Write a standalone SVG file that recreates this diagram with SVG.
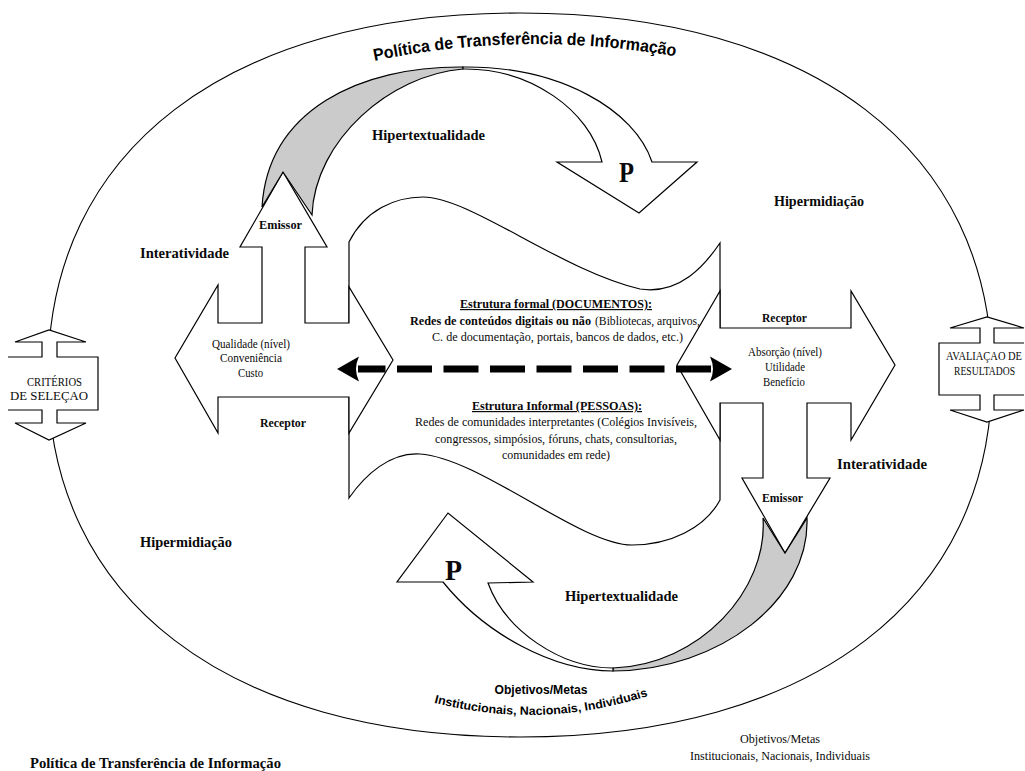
<svg xmlns="http://www.w3.org/2000/svg" width="1025" height="771" viewBox="0 0 1025 771">
<defs>
<style>
.s{fill:#fff;stroke:#000;stroke-width:1.2}
.o{fill:none;stroke:#000;stroke-width:1.1}
.g{fill:#cbcbcb;stroke:#000;stroke-width:1.2}
.tb{font-family:"Liberation Serif","Times New Roman",serif;font-weight:bold;fill:#0a0a0a}
.tr{font-family:"Liberation Serif","Times New Roman",serif;fill:#0a0a0a}
.sb{font-family:"Liberation Sans",Arial,sans-serif;font-weight:bold;fill:#000}
.dash{stroke:#000;stroke-width:7;fill:none;stroke-dasharray:35 11.5;stroke-dashoffset:7.5}
</style>
<marker id="ah" markerUnits="userSpaceOnUse" viewBox="0 0 30 30" markerWidth="30" markerHeight="30" refX="7" refY="15" orient="auto-start-reverse">
<path d="M28,15 L6,2.5 Q12,15 6,27.5 Z" fill="#000"/>
</marker>
<path id="topArc" d="M365,63 Q520,28 685,58"/>
<path id="botArc" d="M428,701 Q540,732 654,694"/>
</defs>
<rect width="1025" height="771" fill="#fff"/>

<g id="boundary">
<path class="o" d="M992,375 C992,599.4 812.6,737 520,737 C227.4,737 48,599.4 48,375 C48,150.6 227.4,13 520,13 C812.6,13 992,150.6 992,375 Z"/>
<text class="sb" font-size="17"><textPath href="#topArc" startOffset="50%" text-anchor="middle" textLength="303" lengthAdjust="spacingAndGlyphs">Política de Transferência de Informação</textPath></text>
<text class="sb" x="541" y="694" font-size="12" text-anchor="middle" textLength="93" lengthAdjust="spacingAndGlyphs">Objetivos/Metas</text>
<text class="sb" font-size="12"><textPath href="#botArc" startOffset="50%" text-anchor="middle" textLength="217" lengthAdjust="spacingAndGlyphs">Institucionais, Nacionais, Individuais</textPath></text>
</g>

<g id="criterios">
<path class="s" d="M8,357 L42,357 L42,342 L15,342 L49,330 L86,342 L57,342 L57,357 L98,357 L98,410 L57,410 L57,423 L86,423 L49,440 L15,423 L42,423 L42,410 L8,410"/>
<text class="tr" x="27" y="386" font-size="12" textLength="55" lengthAdjust="spacingAndGlyphs">CRITÉRIOS</text>
<text class="tr" x="10" y="400" font-size="12" textLength="78" lengthAdjust="spacingAndGlyphs">DE SELEÇAO</text>
</g>

<g id="avaliacao">
<path class="s" d="M1024,343 L994,343 L994,328 L1024,328 L987,317 L950,328 L980,328 L980,343 L939,343 L939,395 L980,395 L980,410 L950,410 L987,422 L1024,410 L994,410 L994,395 L1024,395"/>
<text class="tr" x="946" y="360" font-size="12" textLength="76" lengthAdjust="spacingAndGlyphs">AVALIAÇAO DE</text>
<text class="tr" x="954" y="375" font-size="12" textLength="61" lengthAdjust="spacingAndGlyphs">RESULTADOS</text>
</g>

<g id="central">
<path class="s" d="M349,242 C365,210 395,197 423,197 C470,197 560,270 640,289 C680,295 705,265 720,243 L720,500 C705,528 670,545 632,545 C580,545 480,458 420,454 C390,452 365,475 349,498 Z"/>
<text class="tb" x="460" y="308" font-size="12" text-decoration="underline" textLength="192" lengthAdjust="spacingAndGlyphs">Estrutura formal (DOCUMENTOS):</text>
<text class="tb" x="410" y="325" font-size="12" textLength="181" lengthAdjust="spacingAndGlyphs">Redes de conteúdos digitais ou não</text>
<text class="tr" x="595" y="325" font-size="12" textLength="105" lengthAdjust="spacingAndGlyphs">(Bibliotecas, arquivos,</text>
<text class="tr" x="432" y="341" font-size="12" textLength="251" lengthAdjust="spacingAndGlyphs">C. de documentação, portais, bancos de dados, etc.)</text>
<text class="tb" x="472" y="410" font-size="12" text-decoration="underline" textLength="170" lengthAdjust="spacingAndGlyphs">Estrutura Informal (PESSOAS):</text>
<text class="tr" x="415" y="426" font-size="12" textLength="282" lengthAdjust="spacingAndGlyphs">Redes de comunidades interpretantes (Colégios Invisíveis,</text>
<text class="tr" x="435" y="443" font-size="12" textLength="242" lengthAdjust="spacingAndGlyphs">congressos, simpósios, fóruns, chats, consultorias,</text>
<text class="tr" x="502" y="459" font-size="12" textLength="108" lengthAdjust="spacingAndGlyphs">comunidades em rede)</text>
</g>

<g id="left-block">
<polygon class="s" points="262,323 262,247 240,247 283,172 327,247 305,247 305,323 349,323 349,287 393,360 349,433 349,397 218,397 218,433 175,358 218,285 218,323"/>
<text class="tb" x="259" y="229" font-size="12" textLength="43" lengthAdjust="spacingAndGlyphs">Emissor</text>
<text class="tr" x="212" y="348" font-size="12" textLength="78" lengthAdjust="spacingAndGlyphs">Qualidade (nível)</text>
<text class="tr" x="220" y="362" font-size="12" textLength="62" lengthAdjust="spacingAndGlyphs">Conveniência</text>
<text class="tr" x="238" y="377" font-size="12" textLength="25" lengthAdjust="spacingAndGlyphs">Custo</text>
<text class="tb" x="260" y="427" font-size="12" textLength="46" lengthAdjust="spacingAndGlyphs">Receptor</text>
</g>

<g id="right-block">
<polygon class="s" points="720,328 851,328 851,291 895,365 851,440 851,403 807,403 807,478 830,478 785,553 742,478 763,478 763,403 720,403 720,440 677,365 720,291"/>
<text class="tb" x="762" y="322" font-size="12" textLength="45" lengthAdjust="spacingAndGlyphs">Receptor</text>
<text class="tr" x="748" y="356" font-size="12" textLength="74" lengthAdjust="spacingAndGlyphs">Absorção (nível)</text>
<text class="tr" x="765" y="371" font-size="12" textLength="40" lengthAdjust="spacingAndGlyphs">Utilidade</text>
<text class="tr" x="763" y="386" font-size="12" textLength="42" lengthAdjust="spacingAndGlyphs">Benefício</text>
<text class="tb" x="762" y="502" font-size="12" textLength="41" lengthAdjust="spacingAndGlyphs">Emissor</text>
</g>

<g id="connectors">
<path class="g" d="M262,207 C268,110 360,66 463,67 L463,69 C390,75 315,140 312,215 L283,172 Z"/>
<path class="s" d="M463,67 C560,66 635,110 652,162 L697,162 L639,213 L557,162 L602,162 C590,110 530,68 463,69 Z"/>
<path class="g" d="M807,518 C810,600 720,670 613,671 L613,668 C700,665 768,590 763,518 L785,553 Z"/>
<path class="s" d="M613,671 C553,671 485,634 443,582 L397,582 L448,513 L533,582 L488,583 C505,630 560,668 613,668 Z"/>
<line class="dash" x1="358" y1="369" x2="711" y2="369" marker-start="url(#ah)" marker-end="url(#ah)"/>
</g>

<g id="labels">
<text class="tb" x="619" y="182" font-size="30" textLength="15" lengthAdjust="spacingAndGlyphs">P</text>
<text class="tb" x="445" y="580" font-size="30" textLength="17" lengthAdjust="spacingAndGlyphs">P</text>
<text class="tb" x="372" y="140" font-size="14" textLength="113" lengthAdjust="spacingAndGlyphs">Hipertextualidade</text>
<text class="tb" x="774" y="206" font-size="14" textLength="90" lengthAdjust="spacingAndGlyphs">Hipermidiação</text>
<text class="tb" x="140" y="258" font-size="15" textLength="89" lengthAdjust="spacingAndGlyphs">Interatividade</text>
<text class="tb" x="837" y="469" font-size="15" textLength="90" lengthAdjust="spacingAndGlyphs">Interatividade</text>
<text class="tb" x="140" y="547" font-size="14" textLength="92" lengthAdjust="spacingAndGlyphs">Hipermidiação</text>
<text class="tb" x="565" y="601" font-size="14" textLength="113" lengthAdjust="spacingAndGlyphs">Hipertextualidade</text>
<text class="tr" x="780" y="743" font-size="12" text-anchor="middle" textLength="80" lengthAdjust="spacingAndGlyphs">Objetivos/Metas</text>
<text class="tr" x="690" y="760" font-size="12" textLength="180" lengthAdjust="spacingAndGlyphs">Institucionais, Nacionais, Individuais</text>
<text class="tb" x="30" y="768" font-size="15" textLength="251" lengthAdjust="spacingAndGlyphs">Política de Transferência de Informação</text>
</g>
</svg>
